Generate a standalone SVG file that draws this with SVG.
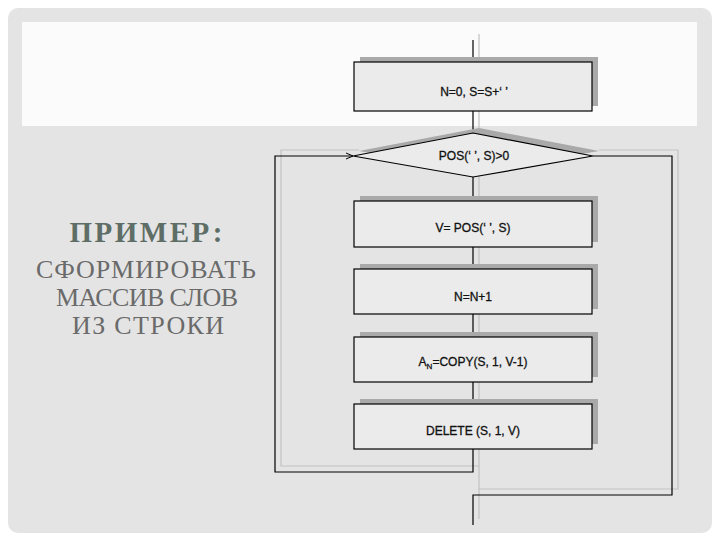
<svg xmlns="http://www.w3.org/2000/svg" width="720" height="540" viewBox="0 0 720 540">
<style>
.box{fill:#ebebeb;stroke:#000;stroke-width:1.2}
.shd{fill:#a9a9a9}
.ln{fill:none;stroke:#000;stroke-width:1.2}
.lns{fill:none;stroke:#c2c2c2;stroke-width:1.2}
.t{font-family:"Liberation Sans",Arial,sans-serif;font-size:12px;fill:#111;stroke:#111;stroke-width:0.3;text-anchor:middle}
.h{font-family:"Liberation Serif","Times New Roman",serif;text-anchor:middle}
</style>
<defs>
<marker id="arr" markerWidth="8" markerHeight="8" refX="7" refY="4" orient="auto" markerUnits="userSpaceOnUse">
<path d="M0,1 L7,4 L0,7" fill="none" stroke="#000" stroke-width="1"/>
</marker>
</defs>
<rect x="0" y="0" width="720" height="540" fill="#ffffff"/>
<rect x="8" y="8" width="704" height="525" rx="10" fill="#e4e4e4"/>
<rect x="22" y="22" width="675" height="104" fill="#fbfbfb"/>

<g id="title">
<text class="h" x="146" y="242" font-size="29" font-weight="bold" fill="#5e6e66" textLength="153" lengthAdjust="spacing">ПРИМЕР:</text>
<text class="h" x="146" y="278" font-size="26" fill="#6a6a6a" textLength="220" lengthAdjust="spacing">СФОРМИРОВАТЬ</text>
<text class="h" x="147" y="306" font-size="26" fill="#6a6a6a" textLength="182" lengthAdjust="spacing">МАССИВ СЛОВ</text>
<text class="h" x="148" y="334" font-size="26" fill="#6a6a6a" textLength="152" lengthAdjust="spacing">ИЗ  СТРОКИ</text>
</g>

<g id="connectors">
<g transform="translate(6,-6)">
<path class="lns" d="M473,40 V525"/>
<path class="lns" d="M473,472 H275 V156 H353"/>
<path class="lns" d="M593,156 H672 V495 H473"/>
</g>
<path class="ln" d="M473,40 V62"/>
<path class="ln" d="M473,111 V133"/>
<path class="ln" d="M473,177 V201"/>
<path class="ln" d="M473,247 V269"/>
<path class="ln" d="M473,314 V337"/>
<path class="ln" d="M473,382 V404"/>
<path class="ln" d="M473,449 V472 H275 V156 H353" marker-end="url(#arr)"/>
<path class="ln" d="M593,156 H672 V495 H473 V525"/>
</g>

<g id="n1">
<rect class="shd" x="360" y="57" width="238" height="49"/>
<rect class="box" x="354" y="62" width="238" height="49"/>
<text class="t" x="474" y="96">N=0, S=S+‘ ’</text>
</g>
<g id="n2">
<polygon class="shd" points="479,128 599,151 479,172 359,151"/>
<polygon class="box" points="473,133 593,156 473,177 353,156"/>
<text class="t" x="474" y="160">POS(‘ ’, S)&gt;0</text>
</g>
<g id="n3">
<rect class="shd" x="360" y="196" width="238" height="46"/>
<rect class="box" x="354" y="201" width="238" height="46"/>
<text class="t" x="473" y="232">V= POS(‘ ’, S)</text>
</g>
<g id="n4">
<rect class="shd" x="360" y="264" width="238" height="45"/>
<rect class="box" x="354" y="269" width="238" height="45"/>
<text class="t" x="473" y="301">N=N+1</text>
</g>
<g id="n5">
<rect class="shd" x="360" y="332" width="238" height="45"/>
<rect class="box" x="354" y="337" width="238" height="45"/>
<text class="t" x="473" y="366">A<tspan font-size="8" dy="3">N</tspan><tspan dy="-3">=COPY(S, 1, V-1)</tspan></text>
</g>
<g id="n6">
<rect class="shd" x="360" y="399" width="238" height="45"/>
<rect class="box" x="354" y="404" width="238" height="45"/>
<text class="t" x="473" y="435">DELETE (S, 1, V)</text>
</g>
</svg>
